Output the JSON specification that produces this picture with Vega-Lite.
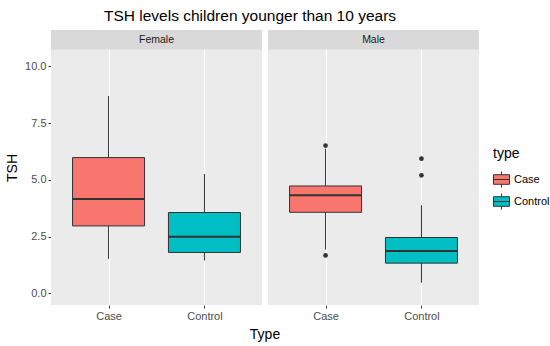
{
  "$schema": "https://vega.github.io/schema/vega-lite/v6.json",
  "padding": {"left": 5, "top": 8, "right": 0, "bottom": 0},
  "background": "#FFFFFF",
  "title": {
    "text": "TSH levels children younger than 10 years",
    "fontSize": 15.5,
    "fontWeight": "normal",
    "color": "#000000",
    "font": "Liberation Sans",
    "anchor": "start",
    "frame": "group",
    "dx": 53,
    "offset": 6
  },
  "data": {
    "values": [
      {"kind": "strip", "sex": "Female", "type": "Case"},
      {"kind": "strip", "sex": "Male", "type": "Case"},
      {"kind": "box", "sex": "Female", "type": "Case", "lower": 1.52, "q1": 2.97, "median": 4.16, "q3": 5.98, "upper": 8.69},
      {"kind": "box", "sex": "Female", "type": "Control", "lower": 1.45, "q1": 1.80, "median": 2.49, "q3": 3.56, "upper": 5.26},
      {"kind": "box", "sex": "Male", "type": "Case", "lower": 1.93, "q1": 3.57, "median": 4.32, "q3": 4.73, "upper": 6.37},
      {"kind": "box", "sex": "Male", "type": "Control", "lower": 0.47, "q1": 1.33, "median": 1.87, "q3": 2.46, "upper": 3.88},
      {"kind": "outlier", "sex": "Male", "type": "Case", "value": 6.51},
      {"kind": "outlier", "sex": "Male", "type": "Case", "value": 1.67},
      {"kind": "outlier", "sex": "Male", "type": "Control", "value": 5.93},
      {"kind": "outlier", "sex": "Male", "type": "Control", "value": 5.20}
    ]
  },
  "facet": {
    "column": {
      "field": "sex",
      "type": "nominal",
      "title": "Type",
      "header": {"labels": false, "titleOrient": "bottom", "titleFontSize": 14, "titleColor": "#000000", "titleFontWeight": "normal", "titlePadding": -3}
    }
  },
  "spacing": {"column": 6},
  "spec": {
    "width": 211,
    "height": 275,
    "layer": [
      {
        "transform": [{"filter": "datum.kind === 'strip'"}],
        "mark": {"type": "rect", "fill": "#D9D9D9"},
        "encoding": {
          "x": {"value": 0},
          "x2": {"value": "width"},
          "y": {"datum": 10.74, "type": "quantitative", "title": "TSH"},
          "y2": {"datum": 11.6}
        }
      },
      {
        "transform": [{"filter": "datum.kind === 'box'"}],
        "mark": {"type": "rule", "color": "#333333", "strokeWidth": 1},
        "encoding": {
          "x": {"field": "type", "type": "nominal", "title": null},
          "y": {"field": "lower", "type": "quantitative", "title": "TSH"},
          "y2": {"field": "upper"}
        }
      },
      {
        "transform": [{"filter": "datum.kind === 'box'"}],
        "mark": {"type": "bar", "size": 72, "stroke": "#333333", "strokeWidth": 1},
        "encoding": {
          "x": {
            "field": "type", "type": "nominal", "title": null,
            "scale": {"type": "point", "padding": 0.6},
            "axis": {"labelAngle": 0, "labelAlign": "center", "labelBaseline": "top", "grid": true, "gridWidth": 1.1, "tickSize": 3, "labelPadding": 2}
          },
          "y": {
            "field": "q1", "type": "quantitative", "title": "TSH",
            "scale": {"domain": [-0.514, 11.6], "nice": false, "zero": false},
            "axis": {
              "values": [0, 1.25, 2.5, 3.75, 5, 6.25, 7.5, 8.75, 10],
              "labelExpr": "datum.value % 2.5 === 0 ? format(datum.value, '.1f') : ''",
              "gridWidth": {"condition": {"test": "datum.value % 2.5 === 0", "value": 1.1}, "value": 0.55},
              "tickOpacity": {"condition": {"test": "datum.value % 2.5 === 0", "value": 1}, "value": 0},
              "tickSize": 3,
              "labelPadding": 2,
              "titlePadding": 5
            }
          },
          "y2": {"field": "q3"},
          "fill": {
            "field": "type", "type": "nominal", "title": "type",
            "scale": {"domain": ["Case", "Control"], "range": ["#F8766D", "#00BFC4"]},
            "legend": {
              "orient": "none",
              "legendX": 442,
              "legendY": 117,
              "symbolType": "M-1,-0.6H1V0.6H-1Z M-1,0H1 M0,-0.6V-1 M0,0.6V1",
              "symbolSize": 256,
              "symbolStrokeColor": "#333333",
              "symbolStrokeWidth": 1,
              "titleFontSize": 14,
              "titleFontWeight": "normal",
              "titleColor": "#000000",
              "labelFontSize": 11,
              "labelColor": "#000000",
              "rowPadding": 1,
              "titlePadding": 10
            }
          }
        }
      },
      {
        "transform": [{"filter": "datum.kind === 'box'"}],
        "mark": {"type": "tick", "size": 72, "thickness": 2, "color": "#333333", "opacity": 1},
        "encoding": {
          "x": {"field": "type", "type": "nominal", "title": null},
          "y": {"field": "median", "type": "quantitative", "title": "TSH"}
        }
      },
      {
        "transform": [{"filter": "datum.kind === 'outlier'"}],
        "mark": {"type": "point", "filled": true, "color": "#333333", "size": 22, "opacity": 1},
        "encoding": {
          "x": {"field": "type", "type": "nominal", "title": null},
          "y": {"field": "value", "type": "quantitative", "title": "TSH"}
        }
      },
      {
        "transform": [{"filter": "datum.kind === 'strip'"}],
        "mark": {"type": "text", "fontSize": 10.5, "color": "#1A1A1A", "baseline": "middle", "align": "center"},
        "encoding": {
          "text": {"field": "sex"},
          "y": {"datum": 11.17, "type": "quantitative", "title": "TSH"}
        }
      }
    ]
  },
  "config": {
    "font": "Liberation Sans",
    "view": {"fill": "#EBEBEB", "stroke": null},
    "axis": {
      "domain": false,
      "tickColor": "#333333",
      "labelColor": "#4D4D4D",
      "labelFontSize": 11,
      "titleFontSize": 14,
      "titleFontWeight": "normal",
      "titleColor": "#000000",
      "gridColor": "#FFFFFF"
    }
  }
}
